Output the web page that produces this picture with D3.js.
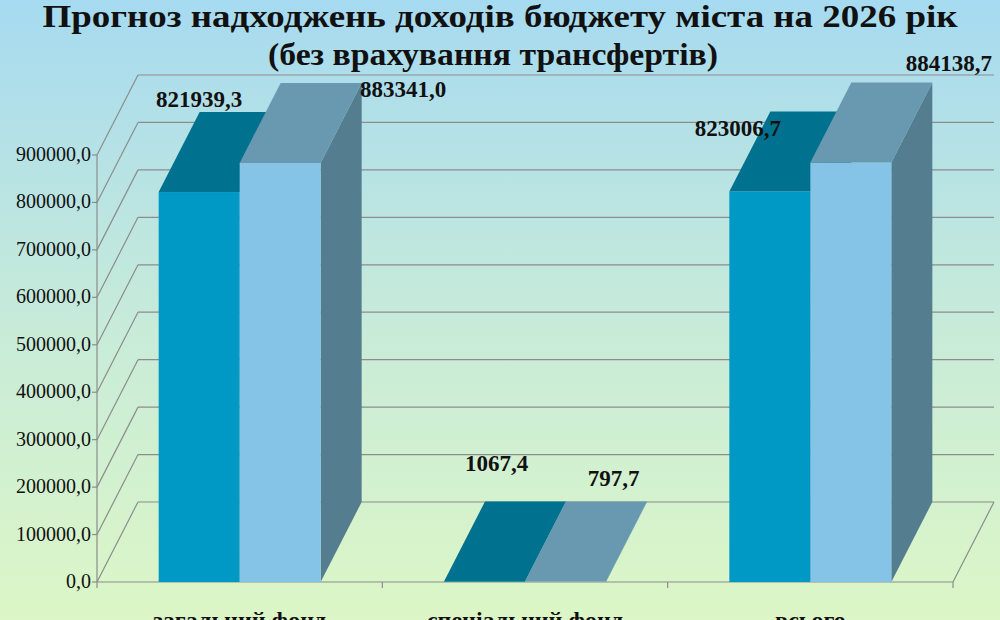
<!DOCTYPE html>
<html><head><meta charset="utf-8">
<script src="https://cdn.jsdelivr.net/npm/d3@7"></script>
<style>body{margin:0;overflow:hidden}</style>
</head><body><svg id="c"></svg>
<script>
const categories = ['загальний фонд', 'спеціальний фонд', 'всього'];
const series1 = [821939.3, 1067.4, 823006.7];
const series2 = [883341.0, 797.7, 884138.7];
const labels1 = ['821939,3', '1067,4', '823006,7'];
const labels2 = ['883341,0', '797,7', '884138,7'];
const ticks = [0, 100000, 200000, 300000, 400000, 500000, 600000, 700000, 800000, 900000];

const W = 1000, H = 620;
const svg = d3.select('#c').attr('width', W).attr('height', H);
const defs = svg.append('defs');
const g = defs.append('linearGradient').attr('id', 'bg').attr('x1', 0).attr('y1', 0).attr('x2', 0).attr('y2', 1);
g.append('stop').attr('offset', '0%').attr('stop-color', '#a6daf0');
g.append('stop').attr('offset', '55%').attr('stop-color', '#c9ecd8');
g.append('stop').attr('offset', '100%').attr('stop-color', '#dcf6c6');
svg.append('rect').attr('width', W).attr('height', H).attr('fill', 'url(#bg)');

const x0 = 97, x1 = 953, dx = 41, dy = -80;
const y = d3.scaleLinear().domain([0, 900000]).range([582, 155]);
const x = d3.scaleBand().domain(categories).range([x0, x1]);
const bw = 81;
const gridC = '#8c8c8c';

// walls and gridlines
const grid = svg.append('g').attr('stroke', gridC).attr('fill', 'none').attr('stroke-width', 1.2);
ticks.forEach(t => {
  grid.append('line').attr('x1', x0).attr('y1', y(t)).attr('x2', x0 + dx).attr('y2', y(t) + dy);
  grid.append('line').attr('x1', x0 + dx).attr('y1', y(t) + dy).attr('x2', x1 + dx).attr('y2', y(t) + dy);
});
grid.append('line').attr('x1', x1).attr('y1', y(0)).attr('x2', x1 + dx).attr('y2', y(0) + dy);
grid.append('line').attr('x1', x0).attr('y1', y(0)).attr('x2', x1).attr('y2', y(0));
grid.append('line').attr('x1', x0).attr('y1', y(0)).attr('x2', x0).attr('y2', y(900000));
ticks.forEach(t => grid.append('line').attr('x1', x0 - 5).attr('y1', y(t)).attr('x2', x0).attr('y2', y(t)));
[0, 1, 2, 3].forEach(i => grid.append('line').attr('x1', x0 + i * x.bandwidth()).attr('y1', y(0)).attr('x2', x0 + i * x.bandwidth()).attr('y2', y(0) + 6));

svg.append('g').selectAll('text').data(ticks).join('text')
  .attr('x', x0 - 6).attr('y', d => y(d) + 6).attr('text-anchor', 'end')
  .attr('font-family', 'Liberation Serif').attr('font-size', 20).attr('fill', '#111')
  .text(d => d3.format(',')(d).replace(/,/g, '') + ',0');

// bars
const cols = [
  { front: '#0099c6', top: '#00718e', side: '#005f78' },
  { front: '#85c4e6', top: '#6899b0', side: '#557d90' }
];
function bar(xl, v, c) {
  const yt = y(v), yb = y(0);
  const b = svg.append('g');
  b.append('path').attr('fill', c.side)
    .attr('d', `M${xl + bw},${yb}L${xl + bw + dx},${yb + dy}L${xl + bw + dx},${yt + dy}L${xl + bw},${yt}Z`);
  b.append('rect').attr('x', xl).attr('y', yt).attr('width', bw).attr('height', yb - yt).attr('fill', c.front);
  b.append('path').attr('fill', c.top)
    .attr('d', `M${xl},${yt}L${xl + dx},${yt + dy}L${xl + bw + dx},${yt + dy}L${xl + bw},${yt}Z`);
}
categories.forEach((cat, i) => {
  const cx = x(cat) + x.bandwidth() / 2;
  bar(cx - bw, series1[i], cols[0]);
  bar(cx, series2[i], cols[1]);
});

// value labels
const off1 = [[0, -85], [12, -110], [-32, -56]];
const off2 = [[123, -66], [48, -96], [98, -92]];
const lab = svg.append('g').attr('font-family', 'Liberation Serif').attr('font-weight', 'bold')
  .attr('font-size', 23).attr('fill', '#111').attr('text-anchor', 'middle');
categories.forEach((cat, i) => {
  const cx = x(cat) + x.bandwidth() / 2;
  lab.append('text').attr('x', cx - bw / 2 + off1[i][0]).attr('y', y(series1[i]) + off1[i][1]).text(labels1[i]);
  lab.append('text').attr('x', cx + bw / 2 + off2[i][0]).attr('y', y(series2[i]) + off2[i][1]).text(labels2[i]);
});

// category labels
svg.append('g').selectAll('text').data(categories).join('text')
  .attr('x', d => x(d) + x.bandwidth() / 2).attr('y', 628).attr('text-anchor', 'middle')
  .attr('font-family', 'Liberation Serif').attr('font-weight', 'bold').attr('font-size', 24).attr('fill', '#111')
  .text(d => d);

// title
const tt = svg.append('g').attr('font-family', 'Liberation Serif').attr('font-weight', 'bold')
  .attr('font-size', 31).attr('fill', '#111').attr('text-anchor', 'middle');
tt.append('text').attr('x', 500).attr('y', 27).attr('textLength', 915).attr('lengthAdjust', 'spacingAndGlyphs')
  .text('Прогноз надходжень доходів бюджету міста на 2026 рік');
tt.append('text').attr('x', 493).attr('y', 65).attr('textLength', 450).attr('lengthAdjust', 'spacingAndGlyphs')
  .text('(без врахування трансфертів)');
</script></body></html>
